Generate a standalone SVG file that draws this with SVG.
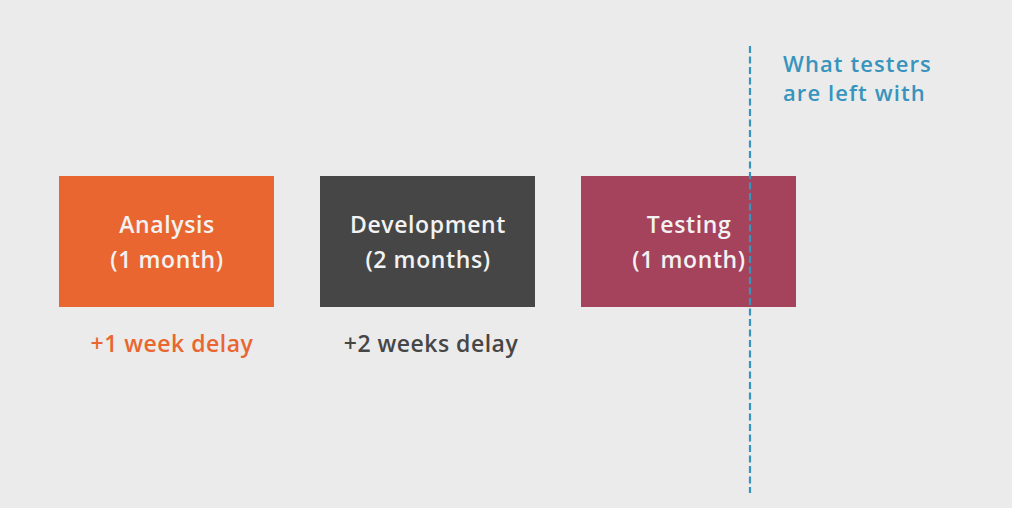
<svg xmlns="http://www.w3.org/2000/svg" width="1012" height="508" viewBox="0 0 1012 508">
<style>
.lbl{font-family:"Open Sans","Liberation Sans",sans-serif;font-size:23px;font-weight:600;letter-spacing:0.6px;text-anchor:middle;fill:#f2f2f2}
.note{font-family:"Open Sans","Liberation Sans",sans-serif;font-size:23px;font-weight:600;letter-spacing:0.5px;text-anchor:middle}
.call{font-family:"Open Sans","Liberation Sans",sans-serif;font-size:22px;font-weight:600;letter-spacing:1.1px;fill:#3794bd}
</style>
<rect width="1012" height="508" fill="#ebebeb"/>
<g id="analysis">
<rect x="59" y="176" width="215" height="131" fill="#e96630"/>
<text class="lbl" x="167" y="233">Analysis</text>
<text class="lbl" x="167" y="268">(1 month)</text>
</g>
<g id="development">
<rect x="320" y="176" width="215" height="131" fill="#464646"/>
<text class="lbl" x="428" y="233">Development</text>
<text class="lbl" x="428" y="268">(2 months)</text>
</g>
<g id="testing">
<rect x="581" y="176" width="215" height="131" fill="#a5425c"/>
<text class="lbl" x="689" y="233">Testing</text>
<text class="lbl" x="689" y="268">(1 month)</text>
</g>
<g id="delays">
<text class="note" x="172" y="352" fill="#e96630">+1 week delay</text>
<text class="note" x="431" y="352" fill="#464646">+2 weeks delay</text>
</g>
<g id="connectors">
<line x1="750" y1="46" x2="750" y2="493" stroke="#3794bd" stroke-width="2.2" stroke-dasharray="7 3.5"/>
</g>
<g id="callout">
<text class="call" x="783" y="72">What testers</text>
<text class="call" x="783" y="101">are left with</text>
</g>
</svg>
